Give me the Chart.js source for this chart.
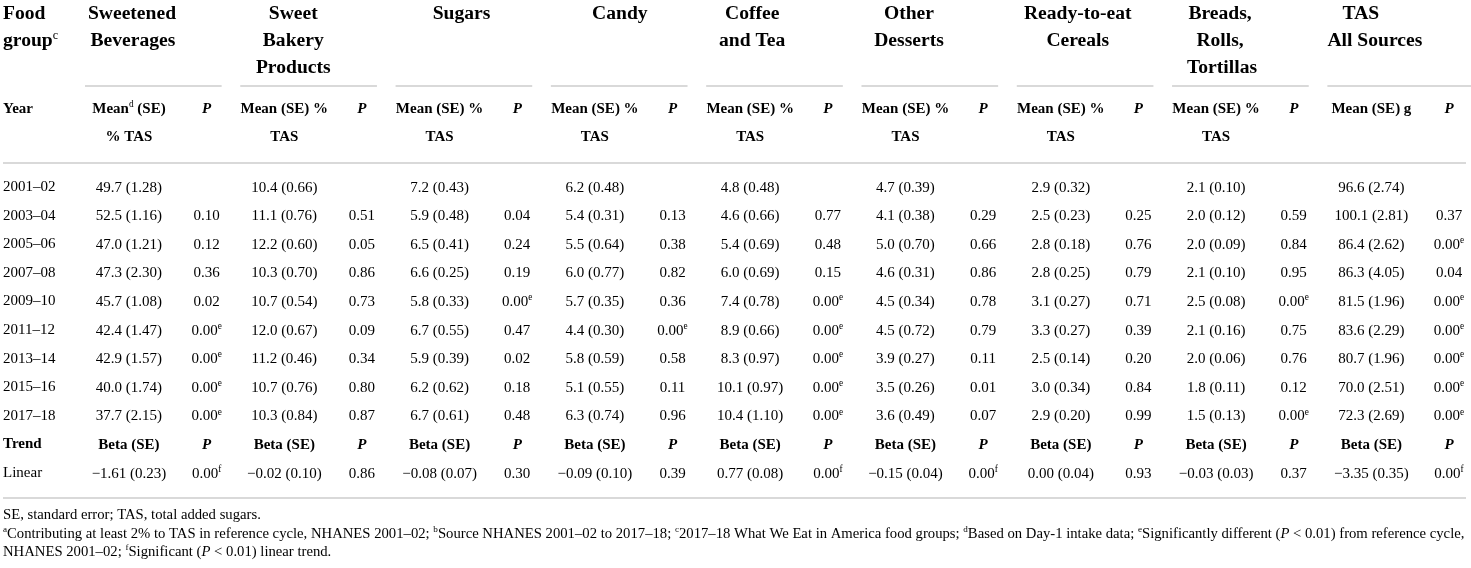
<!DOCTYPE html>
<html>
<head>
<meta charset="utf-8">
<script src="https://cdn.jsdelivr.net/npm/chart.js@4.4.1/dist/chart.umd.min.js"></script>
<style>
html,body{margin:0;padding:0;background:#fff;}
#wrap{width:1471px;height:568px;position:relative;background:#fff;}
</style>
</head>
<body>
<div id="wrap"><canvas id="c"></canvas></div>
<script>
// ---------------- DATA ----------------
const years = ['2001–02','2003–04','2005–06','2007–08','2009–10','2011–12','2013–14','2015–16','2017–18'];
const rowLabels = [...years, 'Trend', 'Linear'];

const groupTitles = [
  ['Sweetened','Beverages'], ['Sweet','Bakery','Products'], ['Sugars'], ['Candy'],
  ['Coffee','and Tea'], ['Other','Desserts'], ['Ready-to-eat','Cereals'],
  ['Breads,','Rolls,','Tortillas'], ['TAS','All Sources']
];
const meanHeaders = [
  ['Mean^d (SE)','% TAS'], ['Mean (SE) %','TAS'], ['Mean (SE) %','TAS'], ['Mean (SE) %','TAS'],
  ['Mean (SE) %','TAS'], ['Mean (SE) %','TAS'], ['Mean (SE) %','TAS'], ['Mean (SE) %','TAS'],
  ['Mean (SE) g']
];

const sweetenedBeveragesMean = [49.7,52.5,47.0,47.3,45.7,42.4,42.9,40.0,37.7];
const sweetenedBeveragesSE   = [1.28,1.16,1.21,2.30,1.08,1.47,1.57,1.74,2.15];
const sweetenedBeveragesP    = [null,0.10,0.12,0.36,0.02,0.00,0.00,0.00,0.00];

const sweetBakeryMean = [10.4,11.1,12.2,10.3,10.7,12.0,11.2,10.7,10.3];
const sweetBakerySE   = [0.66,0.76,0.60,0.70,0.54,0.67,0.46,0.76,0.84];
const sweetBakeryP    = [null,0.51,0.05,0.86,0.73,0.09,0.34,0.80,0.87];

const sugarsMean = [7.2,5.9,6.5,6.6,5.8,6.7,5.9,6.2,6.7];
const sugarsSE   = [0.43,0.48,0.41,0.25,0.33,0.55,0.39,0.62,0.61];
const sugarsP    = [null,0.04,0.24,0.19,0.00,0.47,0.02,0.18,0.48];

const candyMean = [6.2,5.4,5.5,6.0,5.7,4.4,5.8,5.1,6.3];
const candySE   = [0.48,0.31,0.64,0.77,0.35,0.30,0.59,0.55,0.74];
const candyP    = [null,0.13,0.38,0.82,0.36,0.00,0.58,0.11,0.96];

const coffeeTeaMean = [4.8,4.6,5.4,6.0,7.4,8.9,8.3,10.1,10.4];
const coffeeTeaSE   = [0.48,0.66,0.69,0.69,0.78,0.66,0.97,0.97,1.10];
const coffeeTeaP    = [null,0.77,0.48,0.15,0.00,0.00,0.00,0.00,0.00];

const otherDessertsMean = [4.7,4.1,5.0,4.6,4.5,4.5,3.9,3.5,3.6];
const otherDessertsSE   = [0.39,0.38,0.70,0.31,0.34,0.72,0.27,0.26,0.49];
const otherDessertsP    = [null,0.29,0.66,0.86,0.78,0.79,0.11,0.01,0.07];

const cerealsMean = [2.9,2.5,2.8,2.8,3.1,3.3,2.5,3.0,2.9];
const cerealsSE   = [0.32,0.23,0.18,0.25,0.27,0.27,0.14,0.34,0.20];
const cerealsP    = [null,0.25,0.76,0.79,0.71,0.39,0.20,0.84,0.99];

const breadsMean = [2.1,2.0,2.0,2.1,2.5,2.1,2.0,1.8,1.5];
const breadsSE   = [0.10,0.12,0.09,0.10,0.08,0.16,0.06,0.11,0.13];
const breadsP    = [null,0.59,0.84,0.95,0.00,0.75,0.76,0.12,0.00];

const tasMean = [96.6,100.1,86.4,86.3,81.5,83.6,80.7,70.0,72.3];
const tasSE   = [2.74,2.81,2.62,4.05,1.96,2.29,1.96,2.51,2.69];
const tasP    = [null,0.37,0.00,0.04,0.00,0.00,0.00,0.00,0.00];

const trendBeta = [-1.61,-0.02,-0.08,-0.09,0.77,-0.15,0.00,-0.03,-3.35];
const trendSE   = [0.23,0.10,0.07,0.10,0.08,0.04,0.04,0.03,0.35];
const trendP    = [0.00,0.86,0.30,0.39,0.00,0.00,0.93,0.37,0.00];

const footnotes = [
  'SE, standard error; TAS, total added sugars.',
  '^aContributing at least 2% to TAS in reference cycle, NHANES 2001–02; ^bSource NHANES 2001–02 to 2017–18; ^c2017–18 What We Eat in America food groups; ^dBased on Day-1 intake data; ^eSignificantly different (*P* < 0.01) from reference cycle,',
  'NHANES 2001–02; ^fSignificant (*P* < 0.01) linear trend.'
];

// ---------------- STYLE / LAYOUT ----------------
const FAMILY = '"Liberation Serif", "Times New Roman", serif';
const BODY = 15, HEAD = 19.6, SUB = 15, FOOT = 14.7;
const RULE = '#cccccc';
const TITLE_SHIFT = [[3,4],[9,9,9],[22],[25],[2,2],[3.5,3.5],[17,17],[4,4,6],[-10.5,3.5]];
const TITLE_BASE = [-168.5,-141,-114];   // relative to first body row
const SUB_BASE = [-74,-46];
const FOOT_BASE = [46,65,83];             // relative to last body row

const groups = [
  {mean:sweetenedBeveragesMean, se:sweetenedBeveragesSE, p:sweetenedBeveragesP},
  {mean:sweetBakeryMean, se:sweetBakerySE, p:sweetBakeryP},
  {mean:sugarsMean, se:sugarsSE, p:sugarsP},
  {mean:candyMean, se:candySE, p:candyP},
  {mean:coffeeTeaMean, se:coffeeTeaSE, p:coffeeTeaP},
  {mean:otherDessertsMean, se:otherDessertsSE, p:otherDessertsP},
  {mean:cerealsMean, se:cerealsSE, p:cerealsP},
  {mean:breadsMean, se:breadsSE, p:breadsP},
  {mean:tasMean, se:tasSE, p:tasP}
];

function num(v, d){ const s = Math.abs(v).toFixed(d); return (v < 0 ? '−' : '') + s; }
function fmtP(p, mark){ if (p === null) return ''; return p.toFixed(2) + (p < 0.01 ? '^' + mark : ''); }

const datasets = [];
groups.forEach((g, gi) => {
  const m = years.map((yr, i) => ({x: 2*gi, y: yr, t: num(g.mean[i],1) + ' (' + g.se[i].toFixed(2) + ')'}));
  m.push({x: 2*gi, y: 'Trend', t: 'Beta (SE)', bold: true});
  m.push({x: 2*gi, y: 'Linear', t: num(trendBeta[gi],2) + ' (' + trendSE[gi].toFixed(2) + ')'});
  datasets.push({data: m, pointRadius: 0, pointHoverRadius: 0});
  const p = years.map((yr, i) => ({x: 2*gi+1, y: yr, t: fmtP(g.p[i], 'e')}));
  p.push({x: 2*gi+1, y: 'Trend', t: '*P*', bold: true});
  p.push({x: 2*gi+1, y: 'Linear', t: fmtP(trendP[gi], 'f')});
  datasets.push({data: p, pointRadius: 0, pointHoverRadius: 0});
});

// ---------------- RICH TEXT ----------------
function segs(str){
  const out = []; const re = /\^([a-z])|\*([^*]+)\*/g; let last = 0, m;
  while ((m = re.exec(str))) {
    if (m.index > last) out.push({t: str.slice(last, m.index)});
    if (m[1]) out.push({t: m[1], sup: true}); else out.push({t: m[2], it: true});
    last = re.lastIndex;
  }
  if (last < str.length) out.push({t: str.slice(last)});
  return out;
}
function fnt(size, bold, it){ return (it ? 'italic ' : '') + (bold ? 'bold ' : '') + size + 'px ' + FAMILY; }
function drawRich(ctx, str, x, y, align, size, bold){
  const s = segs(str); let w = 0;
  for (const p of s) { ctx.font = fnt(p.sup ? size*0.62 : size, p.sup ? false : bold, p.it); p.w = ctx.measureText(p.t).width; w += p.w; }
  let cx = align === 'center' ? x - w/2 : (align === 'right' ? x - w : x);
  ctx.textAlign = 'left'; ctx.textBaseline = 'alphabetic';
  for (const p of s) {
    ctx.font = fnt(p.sup ? size*0.62 : size, p.sup ? false : bold, p.it);
    ctx.fillText(p.t, cx, p.sup ? y - size*0.38 : y);
    cx += p.w;
  }
}
function hline(ctx, x1, x2, y){
  ctx.save(); ctx.strokeStyle = RULE; ctx.lineWidth = 1.6;
  ctx.beginPath(); ctx.moveTo(x1, y); ctx.lineTo(x2, y); ctx.stroke(); ctx.restore();
}

const tablePlugin = {
  id: 'table',
  beforeDraw(chart){
    const c = chart.ctx; c.save(); c.fillStyle = '#fff'; c.fillRect(0,0,chart.width,chart.height); c.restore();
  },
  afterDatasetsDraw(chart){
    const ctx = chart.ctx; ctx.save(); ctx.fillStyle = '#000';
    chart.data.datasets.forEach((ds, di) => {
      const meta = chart.getDatasetMeta(di);
      meta.data.forEach((el, j) => {
        const cell = ds.data[j];
        if (cell.t) drawRich(ctx, cell.t, el.x, el.y + BODY*0.3, 'center', BODY, !!cell.bold);
      });
    });
    ctx.restore();
  },
  afterDraw(chart){
    const ctx = chart.ctx, xs = chart.scales.x, ys = chart.scales.y, area = chart.chartArea;
    const y0 = ys.getPixelForValue(0), yN = ys.getPixelForValue(rowLabels.length - 1);
    const left = area.left + 3, right = area.right - 5;
    ctx.save(); ctx.fillStyle = '#000';
    drawRich(ctx, 'Food', left, y0 + TITLE_BASE[0], 'left', HEAD, true);
    drawRich(ctx, 'group^c', left, y0 + TITLE_BASE[1], 'left', HEAD, true);
    drawRich(ctx, 'Year', left, y0 + SUB_BASE[0], 'left', SUB, true);
    groupTitles.forEach((lines, gi) => {
      const mx = xs.getPixelForValue(2*gi), px = xs.getPixelForValue(2*gi+1);
      lines.forEach((ln, li) => drawRich(ctx, ln, mx + TITLE_SHIFT[gi][li], y0 + TITLE_BASE[li], 'center', HEAD, true));
      meanHeaders[gi].forEach((ln, li) => drawRich(ctx, ln, mx, y0 + SUB_BASE[li], 'center', SUB, true));
      drawRich(ctx, '*P*', px, y0 + SUB_BASE[0], 'center', SUB, true);
      const x2 = gi === groupTitles.length - 1 ? area.right : px + 15;
      hline(ctx, mx - 44, x2, y0 - 101);
    });
    hline(ctx, left, right, y0 - 24);
    hline(ctx, left, right, yN + 25);
    footnotes.forEach((f, i) => drawRich(ctx, f, left, yN + FOOT_BASE[i], 'left', FOOT, false));
    ctx.restore();
  }
};

new Chart(document.getElementById('c'), {
  type: 'scatter',
  data: { datasets },
  options: {
    responsive: true, maintainAspectRatio: false, animation: false, events: [],
    layout: { padding: { top: 172.7, bottom: 80.7, left: 0, right: 0 } },
    plugins: { legend: { display: false }, tooltip: { enabled: false } },
    scales: {
      x: { type: 'linear', display: false, min: -1.661, max: 17.283 },
      y: {
        type: 'category', labels: rowLabels, offset: true, position: 'left',
        grid: { display: false, drawTicks: false }, border: { display: false },
        afterFit(s){ s.width = 0; },
        ticks: {
          mirror: true, padding: 3, autoSkip: false, color: '#000',
          font: (c) => ({ family: FAMILY, size: BODY, weight: c.index === rowLabels.indexOf('Trend') ? 'bold' : 'normal' })
        }
      }
    }
  },
  plugins: [tablePlugin]
});
</script>
</body>
</html>
